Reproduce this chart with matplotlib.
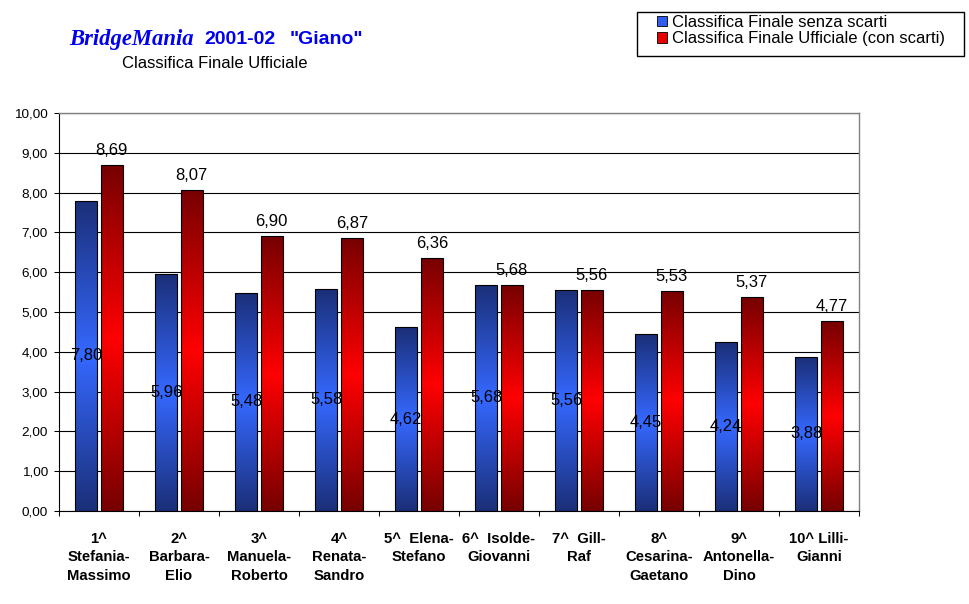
import numpy as np
import matplotlib.pyplot as plt
from matplotlib.colors import LinearSegmentedColormap
from matplotlib.patches import Patch, Rectangle
from matplotlib.ticker import FuncFormatter, MultipleLocator

# Data
pairs = [
    "1^\nStefania-\nMassimo",
    "2^\nBarbara-\nElio",
    "3^\nManuela-\nRoberto",
    "4^\nRenata-\nSandro",
    "5^  Elena-\nStefano",
    "6^  Isolde-\nGiovanni",
    "7^  Gill-\nRaf",
    "8^\nCesarina-\nGaetano",
    "9^\nAntonella-\nDino",
    "10^ Lilli-\nGianni",
]
senza_scarti = [7.80, 5.96, 5.48, 5.58, 4.62, 5.68, 5.56, 4.45, 4.24, 3.88]
ufficiale = [8.69, 8.07, 6.90, 6.87, 6.36, 5.68, 5.56, 5.53, 5.37, 4.77]
series_names = ["Classifica Finale senza scarti",
                "Classifica Finale Ufficiale (con scarti)"]

plt.rcParams['font.family'] = ['Liberation Sans', 'DejaVu Sans']


def comma(v):
    return f"{v:.2f}".replace(".", ",")


def gradient_bars(ax, bars, dark, light):
    # dark at top and bottom, light in the middle
    cmap = LinearSegmentedColormap.from_list("g", [dark, light, dark])
    grad = np.linspace(0, 1, 256).reshape(-1, 1)
    for b in bars:
        x0, y0 = b.get_x(), b.get_y()
        w, h = b.get_width(), b.get_height()
        im = ax.imshow(grad, cmap=cmap, origin="lower", aspect="auto",
                       extent=[x0, x0 + w, y0, y0 + h], zorder=2,
                       interpolation="bilinear")
        im.set_clip_path(b)


fig = plt.figure(figsize=(9.7, 6.04), dpi=100)
ax = fig.add_axes([59 / 970, 1 - 511 / 604, 800 / 970, 398 / 604])

x = np.arange(len(pairs))
w = 0.27
off = 0.16
bars_b = ax.bar(x - off, senza_scarti, w, facecolor="none",
                edgecolor="black", linewidth=0.8, zorder=3)
bars_r = ax.bar(x + off, ufficiale, w, facecolor="none",
                edgecolor="black", linewidth=0.8, zorder=3)
gradient_bars(ax, bars_b, "#1b2f78", "#3568ff")
gradient_bars(ax, bars_r, "#760000", "#ff0000")

# value labels
for xi, v in zip(x, senza_scarti):
    ax.text(xi - off, v / 2, comma(v), ha="center", va="center",
            fontsize=12, zorder=5)
for xi, v in zip(x, ufficiale):
    ax.annotate(comma(v), (xi + off, v), xytext=(0, 5),
                textcoords="offset points", ha="center", va="bottom",
                fontsize=12, zorder=5)

ax.set_xlim(-0.5, len(pairs) - 0.5)
ax.set_ylim(0, 10)
ax.yaxis.set_major_locator(MultipleLocator(1))
ax.yaxis.set_major_formatter(FuncFormatter(lambda v, p: comma(v)))
ax.set_xticks(x)
ax.set_xticklabels(pairs, fontsize=10.7, fontweight="bold", linespacing=1.42)
ax.set_xticks(np.arange(-0.5, len(pairs), 1), minor=True)
ax.tick_params(axis="x", which="major", length=0, pad=15)
ax.tick_params(axis="x", which="minor", length=3.5, width=0.75, direction="out")
ax.tick_params(axis="y", length=3.5, width=0.75, direction="out",
               labelsize=9.7, pad=4.5)

ax.yaxis.grid(True, color="black", linewidth=0.8)
ax.set_axisbelow(True)
for s in ["top", "right"]:
    ax.spines[s].set_color("#808080")
    ax.spines[s].set_linewidth(1.0)
for s in ["left", "bottom"]:
    ax.spines[s].set_color("black")
    ax.spines[s].set_linewidth(0.8)

# titles
fig.text(69 / 970, 1 - 40 / 604, "BridgeMania", family="Liberation Serif",
         style="italic", fontweight="bold", fontsize=16.3, color="#0000ee",
         va="center", ha="left")
fig.text(204 / 970, 1 - 40 / 604, '2001-02', fontweight="bold",
         fontsize=14, color="#0000ee", va="center", ha="left")
fig.text(290 / 970, 1 - 40 / 604, '"Giano"', fontweight="bold",
         fontsize=14, color="#0000ee", va="center", ha="left")
fig.text(215 / 970, 1 - 63 / 604, "Classifica Finale Ufficiale",
         fontsize=12, color="black", va="center", ha="center")

# legend
handles = [Patch(facecolor="#2f5ef0", edgecolor="black", linewidth=0.6),
           Patch(facecolor="#e80000", edgecolor="black", linewidth=0.6)]
fig.legend(handles, series_names, loc="upper left",
           bbox_to_anchor=(657 / 970, 1 - 15 / 604), frameon=False,
           fontsize=12, handlelength=0.6, handleheight=0.6,
           handletextpad=0.3, labelspacing=0.08, borderpad=0,
           borderaxespad=0)
fig.patches.append(Rectangle((637 / 970, 1 - 56 / 604), 327 / 970, 44 / 604,
                             transform=fig.transFigure, fill=False,
                             edgecolor="black", linewidth=1.0))

fig.savefig("out.png", dpi=100)
